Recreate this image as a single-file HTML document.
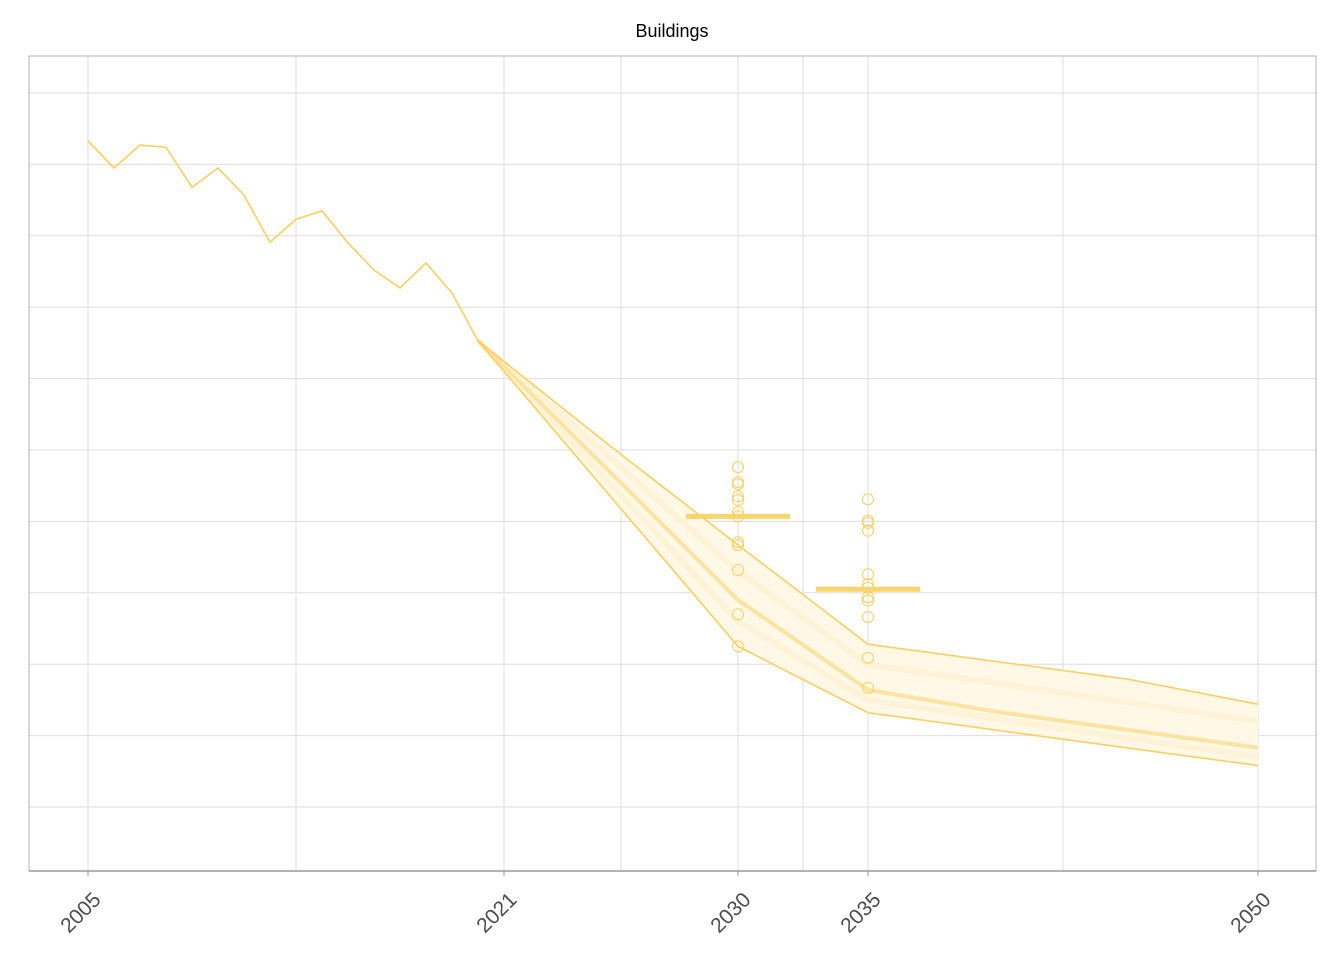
<!DOCTYPE html>
<html><head><meta charset="utf-8"><style>
body{margin:0;background:#fff;font-family:"Liberation Sans",Arial,sans-serif;}
</style></head><body>
<svg id="chart" width="1344" height="960" xmlns="http://www.w3.org/2000/svg">
<text x="672" y="37" text-anchor="middle" font-size="18" fill="#000">Buildings</text>
</svg>
<script>
const histYears=[2005,2006,2007,2008,2009,2010,2011,2012,2013,2014,2015,2016,2017,2018,2019,2020];
const histValues=[10.33,9.95,10.27,10.24,9.68,9.95,9.57,8.91,9.23,9.35,8.90,8.52,8.27,8.62,8.20,7.53];
const upperYears=[2020,2025,2030,2035,2045,2050];
const upperValues=[7.53,6.08,4.67,3.28,2.79,2.44];
const lowerYears=[2020,2025,2030,2035,2050];
const lowerValues=[7.53,5.39,3.25,2.32,1.58];
const medianYears=[2020,2025,2030,2035,2040,2050];
const medianValues=[7.53,5.72,3.90,2.64,2.33,1.83];
const midYears=[2020,2030,2035,2050];
const midA=[7.53,4.3,3.0,2.2];
const midB=[7.53,3.6,2.5,1.7];
const pts2030=[5.76,5.55,5.52,5.35,5.30,5.13,5.07,4.71,4.67,4.32,3.70,3.25];
const pts2035=[5.31,5.01,4.98,4.87,4.26,4.12,4.07,3.94,3.89,3.66,3.09,2.67];
const targetYears=[2030,2035];
const targetValues=[5.07,4.05];
const tickYears=[2005,2021,2030,2035,2050];
const gridYearsMinor=[2013,2025.5,2032.5,2042.5];
const gridValues=[1,2,3,4,5,6,7,8,9,10,11];

const NS="http://www.w3.org/2000/svg";
const svg=document.getElementById('chart');
const X=y=>88+(y-2005)*26;
const Y=v=>878.4-v*71.4;
const C='#fccf5e';
function mk(tag,attrs,parent){const e=document.createElementNS(NS,tag);for(const k in attrs)e.setAttribute(k,attrs[k]);(parent||svg).appendChild(e);return e;}
const L=29,R=1316,T=56,B=871;
const grid=mk('g',{});


gridValues.forEach(v=>{const l=mk('line',{x1:L,x2:R,y1:Y(v),y2:Y(v),stroke:'#dedede','stroke-width':1},grid);

});
tickYears.concat(gridYearsMinor).forEach(y=>{const l=mk('line',{x1:X(y),x2:X(y),y1:T,y2:B,stroke:'#dedede','stroke-width':1},grid);

});
const frame=mk('rect',{x:L,y:T,width:R-L,height:B-T,fill:'none',stroke:'#b3b3b3','stroke-width':1});


const ax=mk('line',{x1:L,x2:R,y1:B,y2:B,stroke:'#999','stroke-width':1.5});


tickYears.forEach(y=>{
const t=mk('line',{x1:X(y),x2:X(y),y1:B,y2:B+5,stroke:'#999'});


const tx=mk('text',{x:0,y:0,transform:`translate(${X(y)+14},${B+30}) rotate(-45)`,'text-anchor':'end','font-size':21,fill:'#4d4d4d'});
tx.textContent=y;


});
function pathOf(ys,vs){return ys.map((y,i)=>(i?'L':'M')+X(y)+','+Y(vs[i])).join(' ');}
const band=mk('path',{d:pathOf(upperYears,upperValues)+' '+lowerYears.slice().reverse().map((y,i)=>'L'+X(y)+','+Y(lowerValues[lowerValues.length-1-i])).join(' ')+'Z',fill:'#fff8e6',stroke:'none'});


[midA,midB].forEach(m=>{const p=mk('path',{d:pathOf(midYears,m),fill:'none',stroke:'#fdeec6','stroke-width':6,opacity:0.45});

});
const med=mk('path',{d:pathOf(medianYears,medianValues),fill:'none',stroke:'#fde3a0','stroke-width':4});


const up=mk('path',{d:pathOf(upperYears,upperValues),fill:'none',stroke:C,'stroke-width':1.6});


const lo=mk('path',{d:pathOf(lowerYears,lowerValues),fill:'none',stroke:C,'stroke-width':1.6});


const hist=mk('path',{d:pathOf(histYears,histValues),fill:'none',stroke:C,'stroke-width':1.6});


[[2030,pts2030],[2035,pts2035]].forEach(([yr,arr])=>arr.forEach(v=>{
const c=mk('circle',{cx:X(yr),cy:Y(v),r:5.5,fill:'none',stroke:C,'stroke-width':1});


}));
targetYears.forEach((y,i)=>{
const b=mk('line',{x1:X(y)-52,x2:X(y)+52,y1:Y(targetValues[i]),y2:Y(targetValues[i]),stroke:'#fcd46c','stroke-width':5});


});
</script>
</body></html>
